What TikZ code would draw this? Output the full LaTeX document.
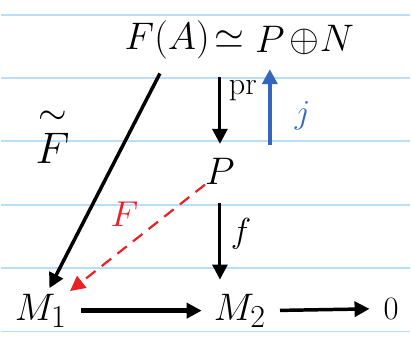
\documentclass[tikz,border=0pt]{standalone}
\usepackage{amsmath}
\usepackage{amssymb}
\usetikzlibrary{arrows.meta, positioning}

\definecolor{ruleblue}{RGB}{186,222,248}
\definecolor{jblue}{RGB}{52,102,190}
\definecolor{Fred}{RGB}{236,32,36}

\begin{document}
\begin{tikzpicture}[
    x=1pt, y=-1pt,
    obj/.style={
        font=\Huge,
        scale=1.55,
        inner sep=0pt
    },
    lbl/.style={
        font=\Huge,
        inner sep=0pt
    },
    arrow/.style={
        -{Triangle[length=15pt, width=15pt]},
        line width=3.5pt
    },
    ruling/.style={
        ruleblue,
        line width=1.8pt
    }
]

% lined paper
\fill[white] (0,0) rectangle (411,347);
\foreach \y in {15,78,142,206,269,333}
    \draw[ruling] (0,\y) -- (411,\y);

% top row
\node[obj, anchor=east] (FA) at (210,40) {$F(A)$};
\node[obj, anchor=west] (iso) at (214,40) {$\simeq$};
\node[obj, anchor=west] (Ptop) at (255,40) {$P$};
\node[obj, anchor=west] (sum) at (290,40) {$\oplus N$};

\node[obj] (P) at (220,172) {$P$};

\node[obj] (M1) at (40,312) {$M_1$};
\node[obj] (M2) at (240,312) {$M_2$};
\node[obj, scale=0.85] (zero) at (392,310) {$0$};

\node[obj, scale=1.15] (Ftilde) at (52,136) {$\overset{\sim}{F}$};

% arrows
\draw[arrow, shorten <=16pt, shorten >=6pt] (FA.south) -- ([xshift=6pt]M1.north);
\draw[arrow, line width=3pt, shorten <=18pt, shorten >=14pt] (P.north |- FA.south)
    -- node[lbl, scale=1.3, right=7pt, pos=0.32] {$\mathrm{pr}$} (P.north);
\draw[arrow, jblue, line width=4.5pt, shorten <=13pt, shorten >=16pt] (Ptop.south |- P.north)
    -- node[lbl, scale=1.35, right=22pt, pos=0.4, jblue] {$j$} (Ptop.south);
\draw[arrow, line width=3pt, shorten <=18pt, shorten >=14pt] (P.south)
    -- node[lbl, scale=1.4, right=9pt, pos=0.45] {$f$} (P.south |- M2.north);
\draw[arrow, Fred, dashed, dash pattern=on 12pt off 8pt, line width=2.2pt, shorten >=4pt] (P.south west)
    -- node[lbl, scale=1.45, above left=6pt and 3pt, pos=0.45, Fred] {$F$} (M1.north east);
\draw[arrow, line width=5pt, shorten <=14pt, shorten >=12pt] (M1.east) -- (M2.west);
\draw[arrow, shorten <=14pt, shorten >=14pt] (M2.east) -- (zero.west);

\end{tikzpicture}
\end{document}
